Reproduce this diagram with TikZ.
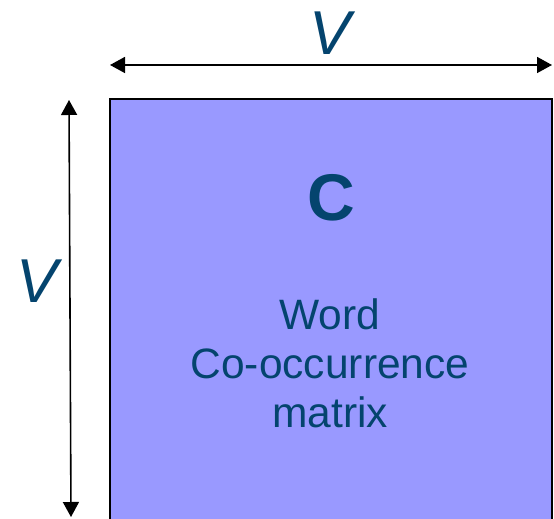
\documentclass[tikz,border=0pt]{standalone}
\usepackage{fontspec}
\setmainfont{Liberation Sans}
\usetikzlibrary{arrows.meta}
\definecolor{matfill}{RGB}{153,153,255}
\definecolor{labelblue}{RGB}{4,68,110}
\begin{document}
\begin{tikzpicture}[x=1pt,y=1pt,
  dimarrow/.style={line width=1.6pt,{Triangle[length=15pt,width=16pt]}-{Triangle[length=15pt,width=16pt]}},
  dimlabel/.style={text=labelblue,font=\fontsize{62}{62}\selectfont\itshape,inner sep=0pt},
  bodytext/.style={text=labelblue,font=\fontsize{42.5}{49}\selectfont,align=center,inner sep=0pt}]
  \useasboundingbox (0,0) rectangle (554,519);
  % the V x V matrix block (its lower edge runs off the page)
  \draw[fill=matfill,line width=1.4pt] (110,-5) rectangle (552,420);
  % dimension arrows
  \coordinate (hl) at (110,454);
  \coordinate (hr) at (552,454);
  \coordinate (vt) at (69,419);
  \coordinate (vb) at (71,2);
  \draw[dimarrow] (hl) -- (hr);
  \draw[dimarrow] (vt) -- (vb);
  \node[dimlabel] (vtop) at (330,486) {V};
  \node[dimlabel] (vleft) at (37,238) {V};
  % labels inside the block
  \node[text=labelblue,font=\fontsize{66}{66}\selectfont\bfseries,inner sep=0pt] (cname) at (331,321) {C};
  \node[bodytext] (desc) at (330,156) {Word\\Co-occurrence\\matrix};
\end{tikzpicture}
\end{document}
